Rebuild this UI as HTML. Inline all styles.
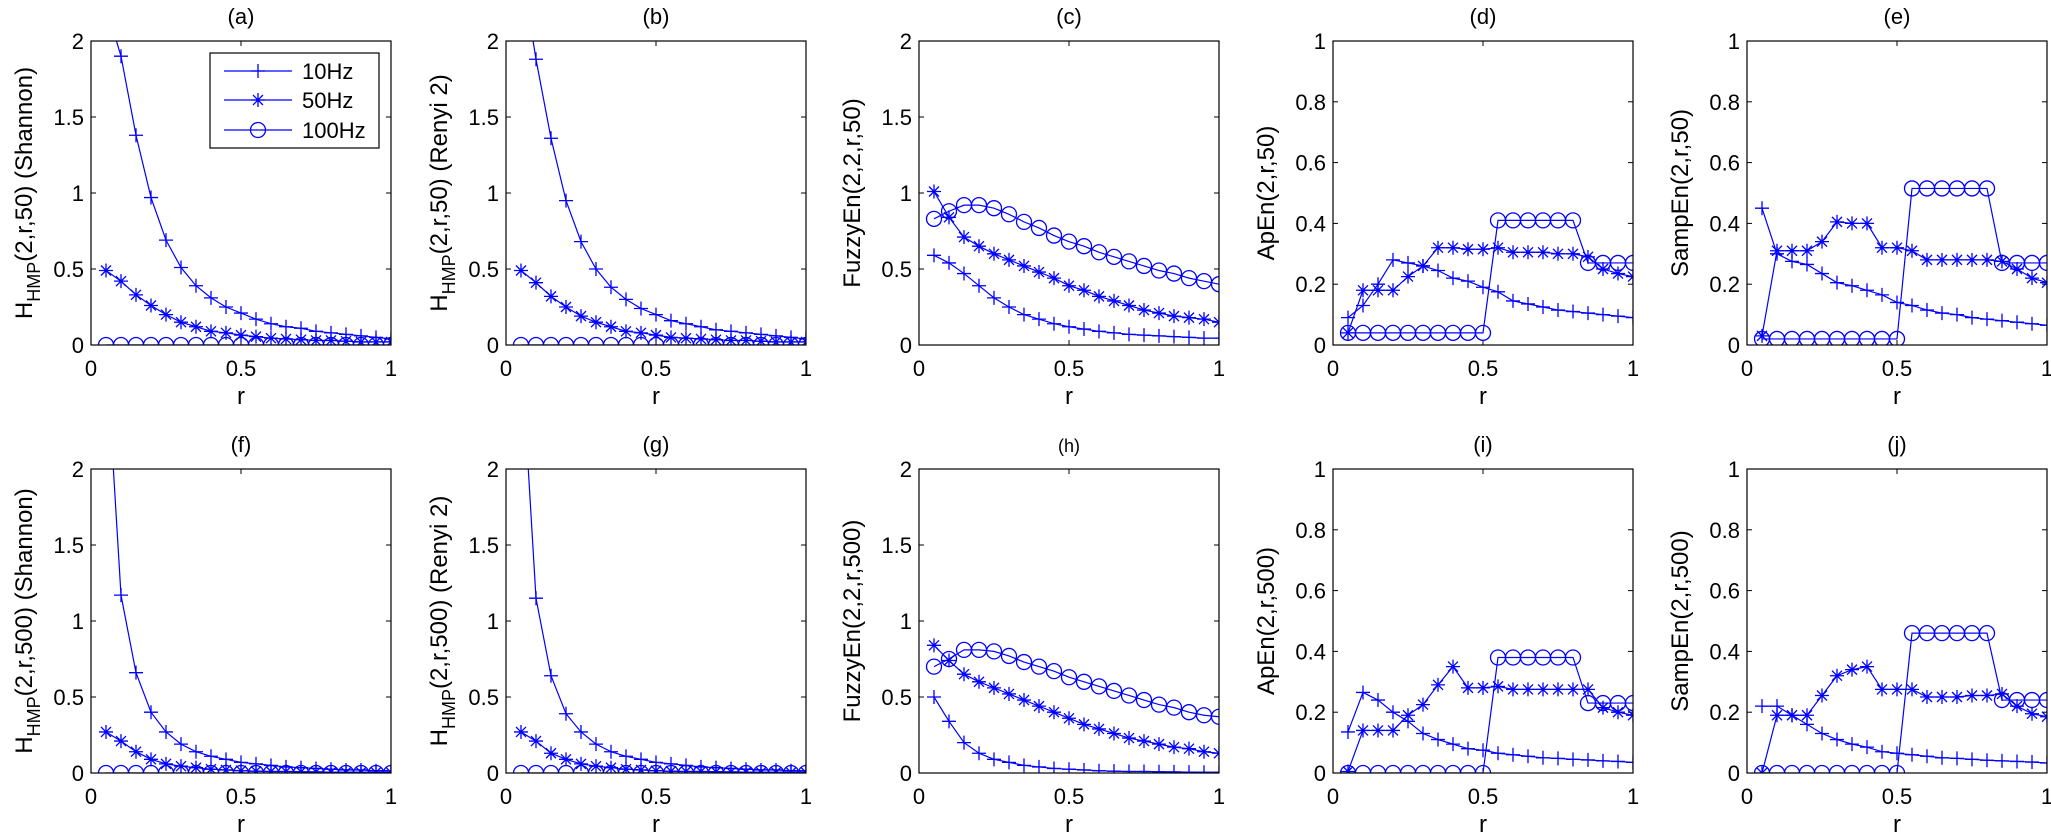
<!DOCTYPE html>
<html><head><meta charset="utf-8"><style>
html,body{margin:0;padding:0;background:#fff;}
svg{display:block;font-family:"Liberation Sans",Arial,sans-serif;}
</style></head><body>
<svg id="fig" width="2051" height="835" viewBox="0 0 2051 835" xmlns="http://www.w3.org/2000/svg"></svg>
<script>
// x values (r)
const rVals = [0.05,0.1,0.15,0.2,0.25,0.3,0.35,0.4,0.45,0.5,0.55,0.6,0.65,0.7,0.75,0.8,0.85,0.9,0.95,1.0];
const seriesNames = ["10Hz","50Hz","100Hz"];
// (a)
const a10 = [2.23,1.9,1.38,0.97,0.69,0.51,0.39,0.31,0.25,0.21,0.17,0.14,0.12,0.11,0.09,0.08,0.07,0.06,0.05,0.04];
const a50 = [0.49,0.42,0.33,0.26,0.2,0.15,0.12,0.09,0.08,0.065,0.055,0.045,0.04,0.035,0.03,0.03,0.025,0.02,0.02,0.02];
const a100 = [0,0,0,0,0,0,0,0,0,0,0,0,0,0,0,0,0,0,0,0];
// (b)
const b10 = [2.5,1.88,1.36,0.95,0.68,0.5,0.38,0.3,0.24,0.2,0.16,0.14,0.12,0.1,0.09,0.08,0.07,0.06,0.05,0.04];
const b50 = [0.49,0.41,0.32,0.25,0.19,0.15,0.12,0.09,0.08,0.065,0.05,0.045,0.04,0.035,0.03,0.03,0.025,0.02,0.02,0.02];
const b100 = [0,0,0,0,0,0,0,0,0,0,0,0,0,0,0,0,0,0,0,0];
// (c)
const c10 = [0.59,0.54,0.47,0.39,0.31,0.25,0.2,0.17,0.14,0.12,0.105,0.09,0.08,0.07,0.065,0.06,0.055,0.05,0.045,0.045];
const c50 = [1.01,0.84,0.71,0.65,0.6,0.56,0.52,0.48,0.44,0.39,0.36,0.32,0.29,0.26,0.23,0.21,0.19,0.18,0.17,0.15];
const c100 = [0.83,0.88,0.92,0.92,0.9,0.86,0.81,0.77,0.72,0.68,0.65,0.61,0.58,0.55,0.52,0.49,0.47,0.44,0.42,0.4];
// (d)
const d10 = [0.09,0.13,0.2,0.28,0.27,0.26,0.245,0.22,0.21,0.19,0.175,0.145,0.135,0.125,0.115,0.11,0.105,0.1,0.095,0.09];
const d50 = [0.04,0.18,0.18,0.18,0.225,0.26,0.32,0.32,0.315,0.315,0.32,0.305,0.305,0.305,0.3,0.3,0.29,0.25,0.235,0.225];
const d100 = [0.04,0.04,0.04,0.04,0.04,0.04,0.04,0.04,0.04,0.04,0.41,0.41,0.41,0.41,0.41,0.41,0.27,0.27,0.27,0.27];
// (e)
const e10 = [0.45,0.3,0.275,0.265,0.235,0.205,0.195,0.18,0.165,0.14,0.13,0.115,0.105,0.1,0.09,0.085,0.08,0.075,0.07,0.065];
const e50 = [0.03,0.31,0.31,0.31,0.34,0.405,0.4,0.4,0.32,0.32,0.31,0.28,0.28,0.28,0.28,0.28,0.275,0.25,0.22,0.205];
const e100 = [0.02,0.02,0.02,0.02,0.02,0.02,0.02,0.02,0.02,0.02,0.515,0.515,0.515,0.515,0.515,0.515,0.27,0.27,0.27,0.27];
// (f)
const f10 = [2.8,1.17,0.66,0.4,0.27,0.19,0.14,0.11,0.09,0.07,0.06,0.05,0.04,0.035,0.03,0.025,0.02,0.02,0.015,0.015];
const f50 = [0.27,0.21,0.14,0.09,0.06,0.045,0.035,0.025,0.02,0.015,0.012,0.01,0.01,0.008,0.007,0.006,0.005,0.005,0.004,0.004];
const f100 = [0,0,0,0,0,0,0,0,0,0,0,0,0,0,0,0,0,0,0,0];
// (g)
const g10 = [2.8,1.15,0.64,0.39,0.27,0.19,0.14,0.11,0.09,0.07,0.06,0.05,0.04,0.035,0.03,0.025,0.02,0.02,0.015,0.015];
const g50 = [0.27,0.21,0.13,0.09,0.06,0.045,0.035,0.025,0.02,0.015,0.012,0.01,0.01,0.008,0.007,0.006,0.005,0.005,0.004,0.004];
const g100 = [0,0,0,0,0,0,0,0,0,0,0,0,0,0,0,0,0,0,0,0];
// (h)
const h10 = [0.5,0.34,0.2,0.13,0.09,0.07,0.05,0.04,0.03,0.025,0.02,0.015,0.012,0.01,0.01,0.008,0.007,0.006,0.005,0.005];
const h50 = [0.84,0.74,0.65,0.6,0.56,0.52,0.48,0.44,0.4,0.36,0.32,0.29,0.26,0.23,0.21,0.19,0.17,0.16,0.14,0.13];
const h100 = [0.7,0.75,0.81,0.81,0.8,0.77,0.73,0.7,0.67,0.63,0.6,0.57,0.54,0.51,0.48,0.45,0.43,0.4,0.38,0.37];
// (i)
const i10 = [0.135,0.265,0.24,0.2,0.17,0.13,0.11,0.095,0.08,0.075,0.065,0.06,0.055,0.05,0.048,0.045,0.043,0.04,0.038,0.035];
const i50 = [0.005,0.14,0.14,0.14,0.19,0.225,0.29,0.35,0.28,0.28,0.285,0.275,0.275,0.275,0.275,0.275,0.275,0.215,0.2,0.19];
const i100 = [0,0,0,0,0,0,0,0,0,0,0.38,0.38,0.38,0.38,0.38,0.38,0.23,0.23,0.23,0.23];
// (j)
const j10 = [0.22,0.22,0.19,0.16,0.13,0.11,0.095,0.085,0.07,0.065,0.06,0.055,0.05,0.048,0.045,0.042,0.04,0.038,0.036,0.033];
const j50 = [0,0.19,0.19,0.19,0.255,0.32,0.34,0.35,0.275,0.275,0.275,0.25,0.25,0.25,0.255,0.255,0.26,0.22,0.195,0.185];
const j100 = [0,0,0,0,0,0,0,0,0,0,0.46,0.46,0.46,0.46,0.46,0.46,0.24,0.24,0.24,0.24];
// axis tick labels
const xTicks = [0,0.5,1];
const yTicks2 = [0,0.5,1,1.5,2];
const yTicks1 = [0,0.2,0.4,0.6,0.8,1];

const NS="http://www.w3.org/2000/svg";
const svg=document.getElementById('fig');
function mk(tag,attrs,parent){const e=document.createElementNS(NS,tag);for(const k in attrs)e.setAttribute(k,attrs[k]);(parent||svg).appendChild(e);return e;}
const BLUE="#0000ff";
const X0=[91,506,919,1333,1747], W=300;
const ROWY=[[41,345],[469,773]];
const panels=[
 {id:'a',row:0,col:0,d:[a10,a50,a100],ymax:2,yt:yTicks2,yl:['H','HMP','(2,r,50) (Shannon)']},
 {id:'b',row:0,col:1,d:[b10,b50,b100],ymax:2,yt:yTicks2,yl:['H','HMP','(2,r,50) (Renyi 2)']},
 {id:'c',row:0,col:2,d:[c10,c50,c100],ymax:2,yt:yTicks2,yl:['FuzzyEn(2,2,r,50)']},
 {id:'d',row:0,col:3,d:[d10,d50,d100],ymax:1,yt:yTicks1,yl:['ApEn(2,r,50)']},
 {id:'e',row:0,col:4,d:[e10,e50,e100],ymax:1,yt:yTicks1,yl:['SampEn(2,r,50)']},
 {id:'f',row:1,col:0,d:[f10,f50,f100],ymax:2,yt:yTicks2,yl:['H','HMP','(2,r,500) (Shannon)']},
 {id:'g',row:1,col:1,d:[g10,g50,g100],ymax:2,yt:yTicks2,yl:['H','HMP','(2,r,500) (Renyi 2)']},
 {id:'h',row:1,col:2,d:[h10,h50,h100],ymax:2,yt:yTicks2,yl:['FuzzyEn(2,2,r,500)'],small:true},
 {id:'i',row:1,col:3,d:[i10,i50,i100],ymax:1,yt:yTicks1,yl:['ApEn(2,r,500)']},
 {id:'j',row:1,col:4,d:[j10,j50,j100],ymax:1,yt:yTicks1,yl:['SampEn(2,r,500)']}
];
function marker(g,kind,x,y){
  if(kind===0){mk('path',{d:`M${x-7} ${y}H${x+7}M${x} ${y-7}V${y+7}`,stroke:BLUE,'stroke-width':1.3,fill:'none'},g);}
  else if(kind===1){mk('path',{d:`M${x-7} ${y}H${x+7}M${x} ${y-7}V${y+7}M${x-5} ${y-5}L${x+5} ${y+5}M${x-5} ${y+5}L${x+5} ${y-5}`,stroke:BLUE,'stroke-width':1.3,fill:'none'},g);}
  else {mk('circle',{cx:x,cy:y,r:7.5,stroke:BLUE,'stroke-width':1.3,fill:'none'},g);}
}
panels.forEach(p=>{
  const x0=X0[p.col], x1=x0+W, yt=ROWY[p.row][0], yb=ROWY[p.row][1];
  const sx=v=>x0+v*W, sy=v=>yb-v/p.ymax*(yb-yt);
  const g=mk('g',{});
  
  
  const cp=mk('clipPath',{id:'clip'+p.id},g);
  mk('rect',{x:x0,y:yt,width:W,height:yb-yt},cp);
  // title
  const t=mk('text',{x:(x0+x1)/2,y:yt-17,'text-anchor':'middle','font-size':p.small?18:22},g);
  
  
  t.textContent='('+p.id+')';
  // ticks
  const tk=mk('g',{stroke:'#000','stroke-width':1},g);
  xTicks.forEach(v=>{
    mk('line',{x1:sx(v),x2:sx(v),y1:yb,y2:yb-5},tk);
    mk('line',{x1:sx(v),x2:sx(v),y1:yt,y2:yt+5},tk);
    const tl=mk('text',{x:sx(v),y:yb+31,'text-anchor':'middle','font-size':22,fill:'#000',stroke:'none'},g);
    
    
    tl.textContent=String(v);
  });
  p.yt.forEach(v=>{
    mk('line',{x1:x0,x2:x0+5,y1:sy(v),y2:sy(v)},tk);
    mk('line',{x1:x1,x2:x1-5,y1:sy(v),y2:sy(v)},tk);
    const tl=mk('text',{x:x0-7,y:sy(v)+8,'text-anchor':'end','font-size':22},g);
    
    
    tl.textContent=String(v);
  });
  // x label
  const xl=mk('text',{x:(x0+x1)/2,y:yb+59,'text-anchor':'middle','font-size':24},g);
  
  
  xl.textContent='r';
  // y label
  const cx=x0-67, cy=(yt+yb)/2;
  const yl=mk('text',{x:0,y:0,'text-anchor':'middle','font-size':24,transform:`translate(${cx+8},${cy}) rotate(-90)`},g);
  
  
  if(p.yl.length===3){
    const s1=mk('tspan',{},yl);s1.textContent=p.yl[0];
    const s2=mk('tspan',{dy:8,'font-size':18},yl);s2.textContent=p.yl[1];
    const s3=mk('tspan',{dy:-8},yl);s3.textContent=p.yl[2];
  } else yl.textContent=p.yl[0];
  // series
  p.d.forEach((arr,k)=>{
    const sg=mk('g',{'clip-path':`url(#clip${p.id})`},g);
    
    
    const pts=arr.map((v,i)=>sx(rVals[i])+','+sy(v)).join(' ');
    mk('polyline',{points:pts,fill:'none',stroke:BLUE,'stroke-width':1.2},sg);
    arr.forEach((v,i)=>marker(sg,k,sx(rVals[i]),sy(v)));
  });
  // box
  const bx=mk('rect',{x:x0,y:yt,width:W,height:yb-yt,fill:'none',stroke:'#000','stroke-width':1.2},g);
  
  
});
// legend in (a)
const lg=mk('g',{});


mk('rect',{x:210,y:53,width:169,height:95,fill:'#fff',stroke:'#000','stroke-width':1.2},lg);
[71,100,130].forEach((y,k)=>{
  const e=mk('g',{},lg);
  
  
  mk('line',{x1:224,x2:292,y1:y,y2:y,stroke:BLUE,'stroke-width':1.2},e);
  marker(e,k,258,y);
  const t=mk('text',{x:302,y:y+8,'font-size':22},e);
  t.textContent=seriesNames[k];
});
</script>
</body></html>
